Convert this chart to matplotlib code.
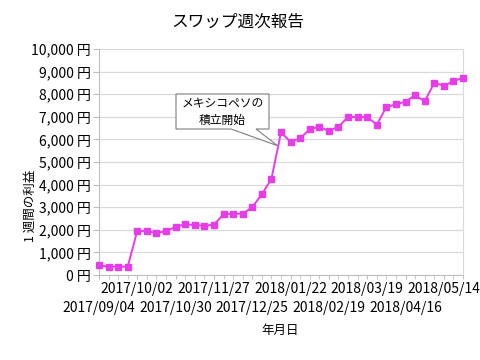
import datetime as dt

import matplotlib.pyplot as plt
from matplotlib.patches import Polygon
from matplotlib.ticker import FuncFormatter, MultipleLocator

plt.rcParams['font.family'] = ['Noto Sans CJK JP', 'DejaVu Sans']

# weekly swap profit (yen), starting 2017/09/04
start = dt.date(2017, 9, 4)
profit = [430, 370, 370, 370, 1960, 1930, 1870, 1930, 2140, 2240,
          2210, 2180, 2230, 2680, 2710, 2710, 3000, 3570, 4250, 6310,
          5890, 6050, 6450, 6560, 6370, 6560, 6990, 6990, 6990, 6650,
          7430, 7550, 7670, 7960, 7680, 8500, 8380, 8570, 8730]
dates = [(start + dt.timedelta(weeks=i)).strftime('%Y/%m/%d') for i in range(len(profit))]
label_step = 4
note_index = 19
note_text = 'メキシコペソの\n積立開始'

color = '#E63DE8'
grid_c = '#D9D9D9'
W, H = 480, 360

fig = plt.figure(figsize=(4.8, 3.6), dpi=100)
ax = fig.add_axes([99 / W, 1 - 275 / H, 364 / W, 226 / H])

x = list(range(len(profit)))
ax.plot(x, profit, color=color, lw=1.4, marker='s', ms=4.5, zorder=3, clip_on=False)

ax.set_xlim(0, len(profit) - 1)
ax.set_ylim(0, 10000)
ax.yaxis.set_major_locator(MultipleLocator(1000))
ax.yaxis.set_major_formatter(FuncFormatter(lambda v, p: f'{int(v):,} 円'))
ax.grid(axis='y', color=grid_c, lw=0.9)

# x labels every 4 weeks, staggered on two rows
ax.set_xticks(x, minor=True)
ticks = x[::label_step]
ax.set_xticks(ticks)
ax.set_xticklabels([dates[i] for i in ticks])
ax.tick_params(axis='x', which='both', length=3, color='#BFBFBF', labelsize=10, pad=2)
ax.tick_params(axis='y', length=4, color='#BFBFBF', labelsize=10, pad=2)
for k, t in enumerate(ax.xaxis.get_major_ticks()):
    if k % 2 == 0:
        t.set_pad(16)

for s in ['left', 'bottom', 'right']:
    ax.spines[s].set_color('#BFBFBF')
ax.spines['right'].set_color(grid_c)
ax.spines['top'].set_visible(False)

fig.text(238 / W, 1 - 22 / H, 'スワップ週次報告', ha='center', va='center', fontsize=12)
fig.text(30 / W, 1 - 206 / H, '1 週間の利益', ha='center', va='center', rotation=90, fontsize=9)
fig.text(280 / W, 1 - 330 / H, '年月日', ha='center', va='center', fontsize=9)

# callout box with a tail pointing at the line just below the jump
tip = ax.transData.transform((note_index - 0.35, profit[note_index] - 590))
tx, ty = fig.transFigure.inverted().transform(tip)
l, r, t, b = 176 / W, 269 / W, 1 - 94 / H, 1 - 129 / H
callout = Polygon([(l, t), (r, t), (r, b), (256 / W, b), (tx, ty), (231 / W, b), (l, b)],
                  closed=True, transform=fig.transFigure, fc='white', ec='#7F7F7F',
                  lw=0.8, zorder=5)
fig.patches.append(callout)
fig.text((l + r) / 2, (t + b) / 2, note_text, ha='center', va='center',
         fontsize=8.5, linespacing=1.5, zorder=6)

fig.savefig('out.png', dpi=100)
